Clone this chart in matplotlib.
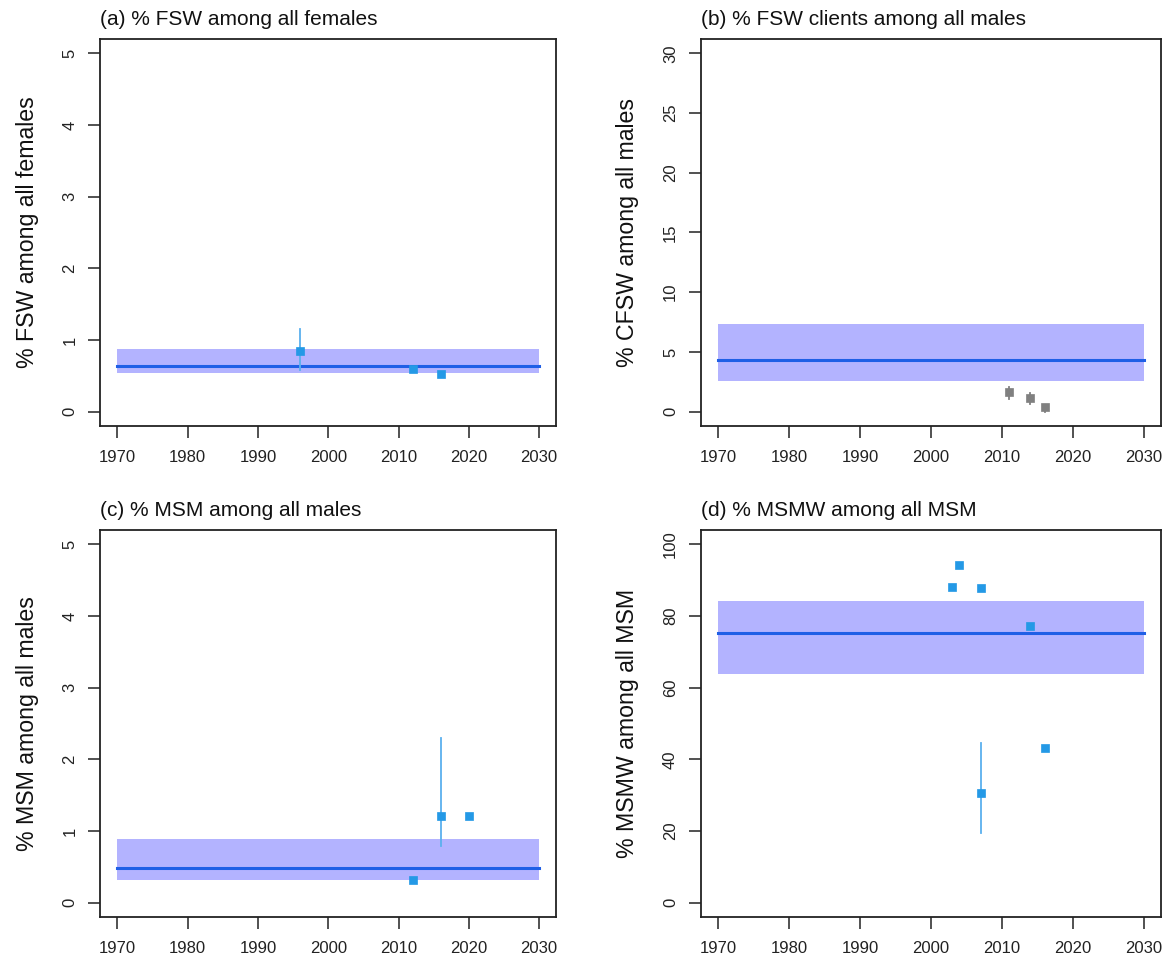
import numpy as np
import matplotlib
matplotlib.use("Agg")
import matplotlib.pyplot as plt

plt.rcParams['font.family'] = ['Liberation Sans', 'DejaVu Sans']

titles = ["(a) % FSW among all females", "(b) % FSW clients among all males",
          "(c) % MSM among all males", "(d) % MSMW among all MSM"]
ylabels = ["% FSW among all females", "% CFSW among all males",
           "% MSM among all males", "% MSMW among all MSM"]
ymax = [5, 30, 5, 100]
yticks = [[0, 1, 2, 3, 4, 5], [0, 5, 10, 15, 20, 25, 30],
          [0, 1, 2, 3, 4, 5], [0, 20, 40, 60, 80, 100]]
xticks = [1970, 1980, 1990, 2000, 2010, 2020, 2030]

band_lo = [0.54, 2.6, 0.32, 63.8]
band_hi = [0.88, 7.3, 0.89, 84.1]
line_val = [0.64, 4.35, 0.49, 75.2]

# data points per panel
a_years = [1996, 2012, 2016]
a_vals = [0.84, 0.59, 0.52]
a_lo = [0.58, np.nan, np.nan]
a_hi = [1.16, np.nan, np.nan]

b_years = [2011, 2014, 2016]
b_vals = [1.67, 1.17, 0.42]
b_lo = [1.1, 0.6, 0.0]
b_hi = [2.1, 1.6, 0.45]

c_years = [2012, 2016, 2020]
c_vals = [0.31, 1.21, 1.21]
c_lo = [np.nan, 0.79, np.nan]
c_hi = [np.nan, 2.3, np.nan]

d_years = [2003, 2004, 2007, 2007, 2014, 2016]
d_vals = [88.0, 94.2, 87.7, 30.6, 77.2, 43.2]
d_lo = [np.nan, np.nan, np.nan, 19.5, np.nan, np.nan]
d_hi = [np.nan, np.nan, np.nan, 44.6, np.nan, np.nan]

points = [(a_years, a_vals, a_lo, a_hi), (b_years, b_vals, b_lo, b_hi),
          (c_years, c_vals, c_lo, c_hi), (d_years, d_vals, d_lo, d_hi)]
pt_colors = ['#2499E6', '#808080', '#2499E6', '#2499E6']
err_colors = ['#5AB0EE', '#808080', '#5AB0EE', '#5AB0EE']

fig = plt.figure(figsize=(11.68, 9.63), dpi=100)
W, H = 1168, 963
boxes = [(100.4, 556, 39, 426), (701, 1161, 39, 426),
         (100.4, 556, 530, 917), (701, 1161, 530, 917)]

for i in range(4):
    l, r, t, b = boxes[i]
    ax = fig.add_axes([l / W, 1 - b / H, (r - l) / W, (b - t) / H])
    ax.fill_between([1970, 2030], band_lo[i], band_hi[i], color='#B3B3FF', lw=0, zorder=1)
    ax.plot([1970, 2030], [line_val[i]] * 2, color='#1F5FE6', lw=2.2, zorder=2)
    yrs, vals, lo, hi = points[i]
    for yr, v, e1, e2 in zip(yrs, vals, lo, hi):
        if not np.isnan(e1):
            ax.plot([yr, yr], [e1, e2], color=err_colors[i], lw=1.3, zorder=3)
    ax.plot(yrs, vals, 's', color=pt_colors[i], ms=5.8, mec=pt_colors[i], mew=0.5, zorder=4, ls='none')

    ax.set_xlim(1967.6, 2032.4)
    ext = ymax[i] * 0.04
    ax.set_ylim(-ext, ymax[i] + ext)
    ax.set_xticks(xticks)
    ax.set_yticks(yticks[i])
    ax.set_yticklabels([str(v) for v in yticks[i]], rotation=90, va='center')
    ax.tick_params(axis='both', direction='out', length=8.5, width=1.2, labelsize=12,
                   color='#333333', labelcolor='#222222')
    ax.tick_params(axis='x', pad=9)
    ax.tick_params(axis='y', pad=8)
    for s in ax.spines.values():
        s.set_linewidth(1.3)
        s.set_color('#222222')
    ax.set_ylabel(ylabels[i], fontsize=16.7, labelpad=17, color='#111111')
    ax.text(0.0, 1.036, titles[i], transform=ax.transAxes, fontsize=15,
            ha='left', va='baseline', color='#111111')

fig.savefig('out.png', dpi=100)
